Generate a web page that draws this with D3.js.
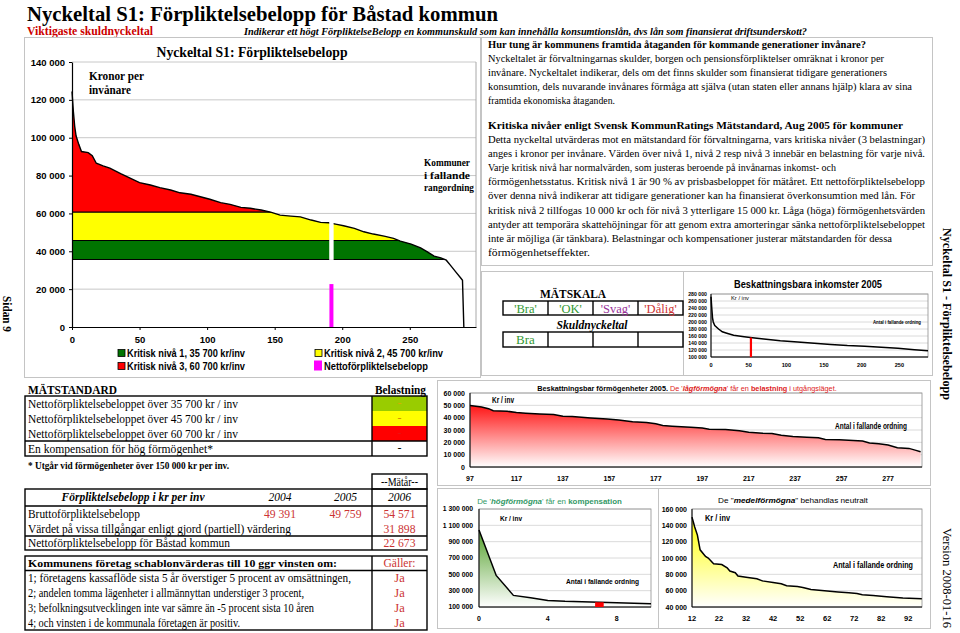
<!DOCTYPE html>
<html lang="sv">
<head>
<meta charset="utf-8">
<title>Nyckeltal S1: Förpliktelsebelopp för Båstad kommun</title>
<script src="https://cdn.jsdelivr.net/npm/d3@7/dist/d3.min.js"></script>
<style>
html,body{margin:0;padding:0;background:#fff;}
svg{display:block;}
</style>
</head>
<body>
<svg id="chart" width="960" height="633" viewBox="0 0 960 633"></svg>
<script>
// ================= DATA =================
// Main chart: net obligation per inhabitant, municipalities in falling rank order
const mainRanks = [0,1,2,3,5,7,12,15,18,23,28,36,43,50,58,65,73,80,88,95,102,110,117,125,132,140,147,154,162,169,177,184,190,196,201,209,216,223,231,238,243,251,258,263,268,273,277,280,284,288,289,290];
const mainValues = [124400,114000,106000,101000,96500,92700,92100,90500,86500,85100,83900,81000,78600,76300,75000,73600,72400,70900,70100,68800,67500,65700,64800,63200,62700,61800,60700,59100,58600,58200,56500,55300,55100,54200,53500,52100,50300,49100,48000,46800,45400,43800,41800,39700,37400,36500,35300,32700,29100,25600,24700,0];
const mainYTicks = [0,20000,40000,60000,80000,100000,120000,140000];
const mainXTicks = [0,50,100,150,200,250];
const criticalLevels = [35700,45700,60700];
const bastadRank = 192;
const bastadNet = 22673;
const legendLabels = ["Kritisk nivå 1, 35 700 kr/inv","Kritisk nivå 2, 45 700 kr/inv","Kritisk nivå 3, 60 700 kr/inv","Nettoförpliktelsebelopp"];

// Taxable income 2005
const incomeRanks = [0,1,2,3,5,10,15,21,30,44,55,70,92,115,137,159,181,204,226,248,270,288];
const incomeValues = [272000,240000,212000,200000,190000,180000,172000,168000,162000,158000,155000,151500,146500,142600,139000,136000,133000,131000,128000,125000,121000,118000];
const incomeYTicks = [100000,120000,140000,160000,180000,200000,220000,240000,260000,280000];
const incomeXTicks = [0,50,100,150,200,250];
const incomeBastadRank = 53;

// Taxable wealth 2005 – low wealth group (ranks 97..)
const lowRanks = [97,102,105,107,113,117,121,127,133,137,141,149,156,161,167,173,177,180,184,192,197,200,207,213,217,223,227,231,236,242,247,250,256,262,266,269,273,277,281,286,289,291];
const lowValues = [49800,48700,47300,45700,45200,44100,43600,43000,42500,41200,40900,39800,39000,38200,36600,36000,35000,33600,33100,32300,31700,30700,30400,29300,28200,27400,27200,25800,24700,24200,23700,22300,22100,21500,21000,19400,18800,17800,15600,15100,13500,12400];
const lowYTicks = [0,10000,20000,30000,40000,50000,60000];
const lowXTicks = [97,117,137,157,177,197,217,237,257,277];

// High wealth group (ranks 0..10)
const highRanks = [0,1,2,3,4,5,6,7,8,9,10];
const highValues = [1044000,486000,242000,212000,181000,169000,164000,158000,153000,147000,141000];
const highYTicks = [100000,300000,500000,700000,900000,1100000,1300000];
const highXTicks = [0,4,8];
const highBastadRank = 7;

// Middle wealth group (ranks 12..97)
const midRanks = [12,13,14,15,17,18,20,23,25,26,28,29,32,36,38,42,45,47,51,53,56,61,66,70,73,75,79,84,90,97];
const midValues = [150000,138000,128000,110000,102000,100000,93000,92000,88000,84000,82000,78000,76500,74500,72000,70000,68500,66000,65000,64000,61500,60000,58500,57500,56500,55000,54000,52500,51000,50000];
const midYTicks = [40000,60000,80000,100000,120000,140000,160000];
const midXTicks = [12,22,32,42,52,62,72,82,92];

// Tables
const obligationYears = ["2004","2005","2006"];
const bruttoValues = [49391,49759,54571];
const assetValue2006 = 31898;
const netValue2006 = 22673;
const scaleLabels = ["'Bra'","'OK'","'Svag'","'Dålig'"];
const debtRating = ["Bra","","",""];
const loadMarks = ["-","-","-","-"];
const conditionLines = [
  "1; företagens kassaflöde sista 5 år överstiger 5 procent av omsättningen,",
  "2; andelen tomma lägenheter i allmännyttan understiger 3 procent,",
  "3; befolkningsutvecklingen inte var sämre än -5 procent sista 10 åren",
  "4; och vinsten i de kommunala företagen är positiv."];
const conditionAnswers = ["Ja","Ja","Ja","Ja"];

const introHeading = "Hur tung är kommunens framtida åtaganden för kommande generationer invånare?";
const introLines = [
  "Nyckeltalet är förvaltningarnas skulder, borgen och pensionsförpliktelser omräknat i kronor per",
  "invånare. Nyckeltalet indikerar, dels om det finns skulder som finansierat tidigare generationers",
  "konsumtion, dels  nuvarande invånares förmåga att själva (utan staten eller annans hjälp) klara av sina",
  "framtida ekonomiska åtaganden."];
const critHeading = "Kritiska nivåer enligt Svensk KommunRatings Mätstandard, Aug 2005 för kommuner";
const critLines = [
  "Detta nyckeltal utvärderas mot en mätstandard för förvaltningarna, vars kritiska nivåer (3 belastningar)",
  "anges i kronor per invånare. Värden över nivå 1, nivå 2 resp nivå 3 innebär en belastning för varje nivå.",
  "Varje kritisk nivå har normalvärden, som justeras beroende på invånarnas inkomst- och",
  "förmögenhetsstatus. Kritisk nivå 1 är 90 % av prisbasbeloppet för mätåret. Ett nettoförpliktelsebelopp",
  "över denna nivå indikerar att tidigare generationer kan ha finansierat överkonsumtion med lån. För",
  "kritisk nivå 2 tillfogas 10 000 kr och för nivå 3 ytterligare 15 000 kr.  Låga (höga) förmögenhetsvärden",
  "antyder att temporära skattehöjningar för att genom extra amorteringar sänka nettoförpliktelsebeloppet",
  "inte är möjliga (är tänkbara). Belastningar och kompensationer justerar mätstandarden för dessa",
  "förmögenhetseffekter."];

// ================= LAYOUT / STYLE =================
const introW = [396,399,424,127];
const critW = [437,437,348,437,427,437,437,404,102];
const SERIF = '"Liberation Serif","Times New Roman",Times,serif';
const SANS = '"Liberation Sans",Arial,Helvetica,sans-serif';
const GREEN = "#007400", YELLOW = "#ffff00", RED = "#ff0000", MAGENTA = "#ff00ff";
const VALRED = "#cc3333";

const fmt = d3.formatLocale({decimal:",",thousands:" ",grouping:[3],currency:["",""]}).format(",");
const svg = d3.select("#chart");
const defs = svg.append("defs");
svg.append("rect").attr("width",960).attr("height",633).attr("fill","#fff");

function T(parent,x,y,str,o={}){
  const t = parent.append("text").attr("x",x).attr("y",y)
    .attr("font-family",o.f||SERIF).attr("font-size",o.s||11)
    .attr("font-weight",o.w||"normal").attr("font-style",o.i?"italic":"normal")
    .attr("fill",o.c||"#000").attr("text-anchor",o.a||"start");
  if(str!=null) t.text(str);
  if(o.tl) t.attr("textLength",o.tl).attr("lengthAdjust","spacingAndGlyphs");
  if(o.tr) t.attr("transform",o.tr);
  return t;
}
// mixed-style line, centred at cx, squeezed horizontally to a target width
function runsFit(cx,y,parts,target,o){
  const g = svg.append("g");
  const t = T(g,0,0,null,Object.assign({},o,{a:"middle"}));
  parts.forEach(p=>{
    const s=t.append("tspan").text(p.t);
    if(p.w) s.attr("font-weight",p.w);
    if(p.i) s.attr("font-style","italic");
    if(p.c) s.attr("fill",p.c);
  });
  const w = t.node().getComputedTextLength();
  g.attr("transform",`translate(${cx},${y}) scale(${(target/w).toFixed(4)},1)`);
  return g;
}
function curveAt(ranks,vals,r){
  const i = Math.max(0,Math.min(ranks.length-2,d3.bisectRight(ranks,r)-1));
  const t = (r-ranks[i])/(ranks[i+1]-ranks[i]);
  return vals[i]+(vals[i+1]-vals[i])*t;
}

// ================= HEADER =================
T(svg,27,21,"Nyckeltal S1: Förpliktelsebelopp för Båstad kommun",{s:22,w:"bold",tl:471});
T(svg,27,35,"Viktigaste skuldnyckeltal",{s:11.5,w:"bold",c:"#cc0000",tl:126});
T(svg,244,35,"Indikerar ett högt FörpliktelseBelopp en kommunskuld som kan innehålla konsumtionslån, dvs lån som finansierat driftsunderskott?",{s:10.5,w:"bold",i:true,tl:563});

// ================= FRAMES =================
const frame = svg.append("g").attr("fill","none").attr("stroke","#c4c4c4").attr("stroke-width",1);
frame.append("rect").attr("x",24.5).attr("y",37.5).attr("width",456).attr("height",340);
frame.append("rect").attr("x",481.5).attr("y",37.5).attr("width",451).attr("height",228);
frame.append("rect").attr("x",481.5).attr("y",271.5).attr("width",451).attr("height",104);
frame.append("line").attr("x1",683.5).attr("x2",683.5).attr("y1",271.5).attr("y2",375.5);
frame.append("rect").attr("x",437.5).attr("y",380.5).attr("width",493).attr("height",105);
frame.append("rect").attr("x",437.5).attr("y",488.5).attr("width",493).attr("height",140);
frame.append("line").attr("x1",658.5).attr("x2",658.5).attr("y1",488.5).attr("y2",628.5);

// ================= MAIN CHART =================
const mx = d3.scaleLinear().domain([0,299]).range([72,476]);
const my = d3.scaleLinear().domain([0,140000]).range([327,62]);
const mainG = svg.append("g");
mainG.append("g").selectAll("line").data(mainYTicks.filter(d=>d>0)).join("line")
  .attr("x1",mx(0)).attr("x2",mx(299)).attr("y1",d=>my(d)).attr("y2",d=>my(d))
  .attr("stroke","#c8c8c8").attr("stroke-width",1);
mainG.append("line").attr("x1",mx(299)).attr("x2",mx(299)).attr("y1",my(140000)).attr("y2",my(0)).attr("stroke","#a8a8a8");
const mainPts = mainRanks.map((r,i)=>[r,mainValues[i]]);
defs.append("clipPath").attr("id","underCurve").append("path")
  .attr("d",d3.area().x(d=>mx(d[0])).y0(my(0)).y1(d=>my(d[1]))(mainPts));
const bandG = mainG.append("g").attr("clip-path","url(#underCurve)");
const bands = [[criticalLevels[0],criticalLevels[1],GREEN],[criticalLevels[1],criticalLevels[2],YELLOW],[criticalLevels[2],140000,RED]];
bandG.selectAll("rect").data(bands).join("rect")
  .attr("x",mx(0)).attr("width",mx(299)-mx(0))
  .attr("y",d=>my(d[1])).attr("height",d=>my(d[0])-my(d[1])).attr("fill",d=>d[2]);
bandG.selectAll("line").data(criticalLevels).join("line")
  .attr("x1",mx(0)).attr("x2",mx(299)).attr("y1",d=>my(d)).attr("y2",d=>my(d))
  .attr("stroke","#000").attr("stroke-width",1.1);
mainG.append("path").attr("d",d3.line().x(d=>mx(d[0])).y(d=>my(d[1]))(mainPts))
  .attr("fill","none").attr("stroke","#000").attr("stroke-width",1.4);
const vB = curveAt(mainRanks,mainValues,bastadRank);
mainG.append("rect").attr("x",mx(bastadRank)-2.2).attr("width",4.4)
  .attr("y",my(vB)-2).attr("height",my(criticalLevels[0])-my(vB)+2.5).attr("fill","#fff");
mainG.append("rect").attr("x",mx(bastadRank)-2).attr("width",4)
  .attr("y",my(bastadNet)).attr("height",my(0)-my(bastadNet)).attr("fill",MAGENTA);

function styleAxis(g,size){
  g.attr("font-family",SANS).attr("font-size",size).attr("font-weight","bold");
  g.selectAll("path.domain").attr("stroke","#000").attr("stroke-width",1.2);
  g.selectAll(".tick line").attr("stroke","#000");
  g.selectAll(".tick text").attr("fill","#000");
}
mainG.append("g").attr("transform",`translate(${mx(0)},0)`)
  .call(d3.axisLeft(my).tickValues(mainYTicks).tickFormat(fmt).tickSize(3).tickSizeOuter(0).tickPadding(4))
  .call(g=>styleAxis(g,9.5));
mainG.append("g").attr("transform",`translate(0,${my(0)})`)
  .call(d3.axisBottom(mx).tickValues(mainXTicks).tickFormat(d3.format("d")).tickSize(3).tickSizeOuter(0).tickPadding(6))
  .call(g=>styleAxis(g,9.5));

T(svg,252,57,"Nyckeltal S1: Förpliktelsebelopp",{s:15,w:"bold",a:"middle",tl:191});
T(svg,89,80,"Kronor per",{s:12.5,w:"bold",tl:55});
T(svg,89,94,"invånare",{s:12.5,w:"bold",tl:42});
T(svg,424,166,"Kommuner",{s:10.5,w:"bold",tl:46});
T(svg,424,178.5,"i fallande",{s:10.5,w:"bold",tl:46});
T(svg,424,190.5,"rangordning",{s:10.5,w:"bold",tl:50});

// legend
const legG = svg.append("g");
const legItems = [
  {x:118,y:357,c:GREEN,label:legendLabels[0],sq:true,tl:118},
  {x:315,y:357,c:YELLOW,label:legendLabels[1],sq:true,tl:119},
  {x:118,y:370,c:RED,label:legendLabels[2],sq:true,tl:118},
  {x:315,y:370,c:MAGENTA,label:legendLabels[3],sq:false,tl:104}];
legItems.forEach(d=>{
  if(d.sq) legG.append("rect").attr("x",d.x).attr("y",d.y-7.5).attr("width",7).attr("height",7).attr("fill",d.c).attr("stroke","#000").attr("stroke-width",0.8);
  else legG.append("rect").attr("x",d.x-1).attr("y",d.y-9.5).attr("width",8).attr("height",10).attr("fill",d.c);
  T(legG,d.x+9,d.y,d.label,{f:SANS,s:10,w:"bold",tl:d.tl});
});

// ================= RIGHT TEXT PANEL =================
T(svg,488,48,introHeading,{s:11,w:"bold",tl:378});
introLines.forEach((l,i)=>T(svg,488,62+i*14,l,{s:11,tl:introW[i]}));
T(svg,488,129,critHeading,{s:11,w:"bold",tl:415});
critLines.forEach((l,i)=>T(svg,488,143+i*14.1,l,{s:11,tl:critW[i]}));

// ================= MÄTSKALA =================
T(svg,573,297.5,"MÄTSKALA",{s:13,w:"bold",a:"middle",tl:66});
const scaleColors = ["#339933","#339933","#993399","#cc3333"];
const cellX = d3.range(5).map(i=>503+i*45);
const tbl = svg.append("g").attr("fill","none").attr("stroke","#000").attr("stroke-width",1.4);
[[301,315],[332,347]].forEach(([y0,y1])=>{
  tbl.append("rect").attr("x",cellX[0]).attr("y",y0).attr("width",cellX[4]-cellX[0]).attr("height",y1-y0);
  cellX.slice(1,4).forEach(x=>tbl.append("line").attr("x1",x).attr("x2",x).attr("y1",y0).attr("y2",y1));
});
scaleLabels.forEach((s,i)=>T(svg,(cellX[i]+cellX[i+1])/2,312.5,s,{s:12.5,a:"middle",c:scaleColors[i]}));
T(svg,592,329,"Skuldnyckeltal",{s:13,w:"bold",i:true,a:"middle",tl:71});
debtRating.forEach((s,i)=>{ if(s) T(svg,(cellX[i]+cellX[i+1])/2,344,s,{s:13,a:"middle",c:scaleColors[i]}); });

// ================= MINI CHART HELPER =================
function mini(o){
  const x = d3.scaleLinear().domain(o.xd).range([o.L,o.R]);
  const y = d3.scaleLinear().domain(o.yd).range([o.B,o.Tp]);
  const g = svg.append("g");
  g.selectAll("line.gr").data(o.yt).join("line").attr("class","gr")
    .attr("x1",o.L).attr("x2",o.R).attr("y1",d=>y(d)).attr("y2",d=>y(d))
    .attr("stroke","#d0d0d0").attr("stroke-width",0.8);
  const pts = o.ranks.map((r,i)=>[r,o.vals[i]]);
  if(o.fill){
    const id = "grad"+o.id;
    const lg = defs.append("linearGradient").attr("id",id).attr("gradientUnits","userSpaceOnUse")
      .attr("x1",0).attr("x2",0).attr("y1",o.gy0!=null?o.gy0:o.Tp).attr("y2",o.B);
    lg.append("stop").attr("offset",0).attr("stop-color",o.fill);
    lg.append("stop").attr("offset",1).attr("stop-color","#fff");
    g.append("path").attr("d",d3.area().x(d=>x(d[0])).y0(o.B).y1(d=>y(d[1]))(pts)).attr("fill",`url(#${id})`);
  }
  g.append("rect").attr("x",o.L).attr("y",o.Tp).attr("width",o.R-o.L).attr("height",o.B-o.Tp)
    .attr("fill","none").attr("stroke","#909090").attr("stroke-width",0.8);
  g.append("line").attr("x1",o.L).attr("x2",o.L).attr("y1",o.Tp).attr("y2",o.B).attr("stroke","#000").attr("stroke-width",1);
  g.append("line").attr("x1",o.L).attr("x2",o.R).attr("y1",o.B).attr("y2",o.B).attr("stroke","#000").attr("stroke-width",1);
  g.append("path").attr("d",d3.line().x(d=>x(d[0])).y(d=>y(d[1]))(pts))
    .attr("fill","none").attr("stroke","#000").attr("stroke-width",o.lw||1.5);
  g.selectAll("text.yl").data(o.yt).join("text").attr("class","yl")
    .attr("x",o.L-o.pad).attr("y",d=>y(d)+o.fs*0.36).text(fmt)
    .attr("font-family",SANS).attr("font-size",o.fs).attr("font-weight","bold").attr("text-anchor","end");
  g.selectAll("text.xl").data(o.xt).join("text").attr("class","xl")
    .attr("x",d=>x(d)).attr("y",o.B+o.xoff).text(d=>d)
    .attr("font-family",SANS).attr("font-size",o.xfs||o.fs).attr("font-weight","bold").attr("text-anchor","middle");
  return {x,y,g};
}

// Income chart
const inc = mini({id:"inc",xd:[0,288],yd:[100000,280000],L:711,R:928,Tp:294,B:357,
  ranks:incomeRanks,vals:incomeValues,yt:incomeYTicks,xt:incomeXTicks,pad:4,fs:5.2,xfs:5.6,xoff:10,lw:1.5});
const incB = curveAt(incomeRanks,incomeValues,incomeBastadRank);
inc.g.append("line").attr("x1",inc.x(incomeBastadRank)).attr("x2",inc.x(incomeBastadRank))
  .attr("y1",inc.y(100000)).attr("y2",inc.y(incB)).attr("stroke",RED).attr("stroke-width",2.2);
T(svg,808,288,"Beskattningsbara inkomster 2005",{f:SANS,s:10,w:"bold",a:"middle",tl:148});
T(svg,731,300,"Kr / inv",{f:SANS,s:5.5,tl:18});
T(svg,897,324,"Antal i fallande ordning",{f:SANS,s:6,w:"bold",a:"middle",tl:48});

// Low wealth chart
mini({id:"low",xd:[97,291.6],yd:[0,60000],L:470,R:922,Tp:393,B:467,
  ranks:lowRanks,vals:lowValues,yt:lowYTicks,xt:lowXTicks,pad:5,fs:7,xoff:14,fill:"#ff0000",gy0:400});
runsFit(687,390.5,[
  {t:"Beskattningsbar förmögenheter 2005.  "},
  {t:"De '",w:"normal",c:"#dd2222"},
  {t:"lågförmögna",w:"bold",i:true,c:"#dd2222"},
  {t:"' får en ",w:"normal",c:"#dd2222"},
  {t:"belastning",w:"bold",c:"#dd2222"},
  {t:" i utgångsläget.",w:"normal",c:"#dd2222"}],300,{f:SANS,s:8,w:"bold"});
T(svg,492,403,"Kr / inv",{f:SANS,s:8.5,w:"bold",tl:22});
T(svg,835,429,"Antal i fallande ordning",{f:SANS,s:8.5,w:"bold",tl:72});

// High wealth chart
const hi = mini({id:"high",xd:[0,10],yd:[100000,1300000],L:479,R:651,Tp:509,B:607,
  ranks:highRanks,vals:highValues,yt:highYTicks,xt:highXTicks,pad:6,fs:6.8,xfs:7,xoff:14,fill:"#3d9410",gy0:520});
const hiB = curveAt(highRanks,highValues,highBastadRank);
hi.g.append("rect").attr("x",hi.x(highBastadRank-0.25)).attr("width",hi.x(0.5)-hi.x(0))
  .attr("y",hi.y(hiB)).attr("height",hi.y(100000)-hi.y(hiB)).attr("fill",RED);
runsFit(549.5,503.5,[
  {t:"De '"},{t:"högförmögna",w:"bold",i:true},{t:"' får en "},{t:"kompensation",w:"bold"}],145,{f:SANS,s:8,c:"#339966"});
T(svg,500,521,"Kr / inv",{f:SANS,s:8,w:"bold",tl:22});
T(svg,566,584,"Antal i fallande ordning",{f:SANS,s:8,w:"bold",tl:73});

// Middle wealth chart
mini({id:"mid",xd:[12,97.07],yd:[40000,160000],L:692,R:922,Tp:509,B:607,
  ranks:midRanks,vals:midValues,yt:midYTicks,xt:midXTicks,pad:5,fs:7,xfs:7.5,xoff:14,fill:"#ffff00",gy0:515});
runsFit(793,503,[
  {t:"De \""},{t:"medelförmögna",w:"bold",i:true},{t:"\" behandlas neutralt"}],150,{f:SANS,s:8});
T(svg,705,521,"Kr / inv",{f:SANS,s:8.5,w:"bold",tl:25});
T(svg,833,568,"Antal i fallande ordning",{f:SANS,s:8.5,w:"bold",tl:80});

// ================= BOTTOM-LEFT TABLES =================
// table 1 background colours
const loadColors = ["#99cc00","#ffff00","#ff0000","#ffffff"];
const loadDash = ["#d4b000","#d09000","#ee1111","#000"];
const bgG = svg.append("g");
loadColors.forEach((c,i)=>bgG.append("rect").attr("x",372).attr("y",396+i*15).attr("width",55).attr("height",15).attr("fill",c));
const tb = svg.append("g").attr("fill","none").attr("stroke","#000").attr("stroke-width",1.4);
T(svg,28,394,"MÄTSTANDARD",{s:13,w:"bold",tl:89});
T(svg,426,394,"Belastning",{s:12,w:"bold",a:"end",tl:51});
const standardLabels = criticalLevels.map(l=>`Nettoförpliktelsebeloppet över ${fmt(l)} kr / inv`).concat(["En kompensation för hög förmögenhet*"]);
const standardW = [210,210,210,185];
standardLabels.forEach((s,i)=>{
  T(svg,28,408+i*15,s,{s:13,tl:standardW[i]});
  T(svg,399.5,407+i*15,loadMarks[i],{s:12,a:"middle",c:loadDash[i]});
});
tb.append("rect").attr("x",25).attr("y",396).attr("width",402).attr("height",60);
tb.append("line").attr("x1",372).attr("x2",372).attr("y1",396).attr("y2",456);
tb.append("line").attr("x1",25).attr("x2",427).attr("y1",441).attr("y2",441);
T(svg,28,469,"* Utgår vid förmögenheter över 150 000 kr per inv.",{s:9.5,w:"bold",tl:201});

// table 2
tb.append("rect").attr("x",372).attr("y",474).attr("width",55).attr("height",15);
T(svg,399.5,486,"--Mätår--",{s:12,a:"middle",tl:37});
tb.append("rect").attr("x",25).attr("y",489).attr("width",402).attr("height",61);
tb.append("line").attr("x1",372).attr("x2",372).attr("y1",489).attr("y2",550);
tb.append("line").attr("x1",25).attr("x2",427).attr("y1",506).attr("y2",506);
tb.append("line").attr("x1",25).attr("x2",427).attr("y1",536).attr("y2",536);
const yearX = [280,345.5,399.5];
T(svg,133,501,"Förpliktelsebelopp i kr per inv",{s:13,w:"bold",i:true,a:"middle",tl:143});
obligationYears.forEach((y,i)=>T(svg,yearX[i],501,y,{s:13,i:true,a:"middle",tl:23}));
T(svg,28,518,"Bruttoförpliktelsebelopp",{s:13,tl:112});
bruttoValues.forEach((v,i)=>T(svg,yearX[i],518,fmt(v),{s:13,a:"middle",c:VALRED,tl:32}));
T(svg,28,532.5,"Värdet på vissa tillgångar enligt gjord (partiell) värdering",{s:13,tl:263});
T(svg,yearX[2],532.5,fmt(assetValue2006),{s:13,a:"middle",c:VALRED,tl:32});
T(svg,28,547,"Nettoförpliktelsebelopp för Båstad kommun",{s:13,tl:202});
T(svg,yearX[2],547,fmt(netValue2006),{s:13,a:"middle",c:VALRED,tl:32});

// table 3
tb.append("rect").attr("x",25).attr("y",556).attr("width",402).attr("height",74);
tb.append("line").attr("x1",372).attr("x2",372).attr("y1",556).attr("y2",630);
tb.append("line").attr("x1",25).attr("x2",427).attr("y1",570.5).attr("y2",570.5);
T(svg,28,567,"Kommunens företag schablonvärderas till 10 ggr vinsten om:",{s:11,w:"bold",tl:309});
T(svg,399.5,567,"Gäller:",{s:12,a:"middle",c:VALRED,tl:32});
const condW = [323,276,286,212];
conditionLines.forEach((s,i)=>{
  T(svg,28,582+i*15,s,{s:11.5,tl:condW[i]});
  T(svg,399.5,582+i*15,conditionAnswers[i],{s:12.5,a:"middle",c:VALRED});
});

// ================= SIDE TEXTS =================
T(svg,0,0,"Sidan 9",{s:13,w:"bold",a:"middle",tl:36,tr:"translate(3,314) rotate(90)"});
T(svg,0,0,"Nyckeltal S1 - Förpliktelsebelopp",{s:12.5,w:"bold",a:"middle",tl:172,tr:"translate(943,314) rotate(90)"});
T(svg,0,0,"Version 2008-01-16",{s:12.5,a:"middle",tl:100,tr:"translate(943,578) rotate(90)"});
</script>
</body>
</html>
